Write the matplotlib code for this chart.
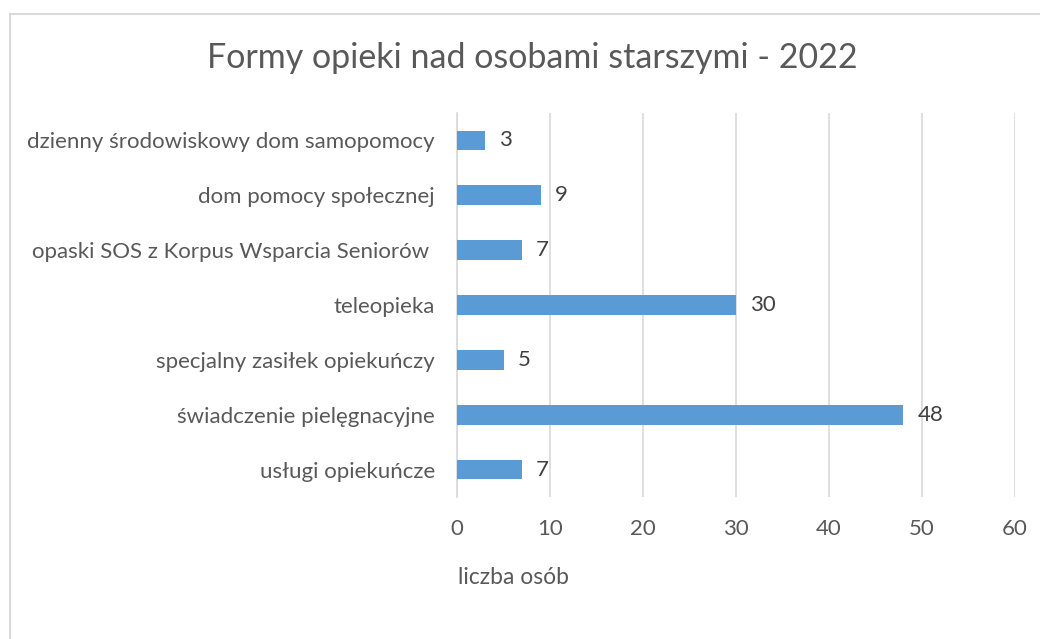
import matplotlib.pyplot as plt
from matplotlib.lines import Line2D

plt.rcParams['font.family'] = ['Lato', 'DejaVu Sans']

kategorie = ['usługi opiekuńcze',
             'świadczenie pielęgnacyjne',
             'specjalny zasiłek opiekuńczy',
             'teleopieka',
             'opaski SOS z Korpus Wsparcia Seniorów ',
             'dom pomocy społecznej',
             'dzienny środowiskowy dom samopomocy']
liczba = [7, 48, 5, 30, 7, 9, 3]
xticks = [0, 10, 20, 30, 40, 50, 60]

fig = plt.figure(figsize=(10.4, 6.39), dpi=100)
ax = fig.add_axes([457 / 1040, 142 / 639, 558 / 1040, 384 / 639])

y = range(len(kategorie))
ax.barh(y, liczba, height=0.36, color='#5b9bd5', zorder=3)
for i, v in enumerate(liczba):
    ax.annotate(str(v), xy=(v, i), xytext=(10, 0), textcoords='offset points',
                va='center', ha='left', fontsize=16, color='#404040')

ax.set_xlim(0, 60)
ax.set_ylim(-0.5, len(kategorie) - 0.5)
ax.set_xticks(xticks)
ax.set_yticks(list(y))
ax.set_yticklabels(kategorie)
ax.grid(axis='x', color='#d9d9d9', lw=1.2, zorder=0)
for s in ['top', 'right', 'bottom']:
    ax.spines[s].set_visible(False)
ax.spines['left'].set_color('#d9d9d9')
ax.spines['left'].set_linewidth(1.2)
ax.tick_params(axis='both', length=0, labelsize=16, colors='#595959')
ax.tick_params(axis='x', pad=16)
ax.tick_params(axis='y', pad=16)

fig.text(532 / 1040, 1 - 58 / 639, 'Formy opieki nad osobami starszymi - 2022',
         ha='center', va='center', fontsize=24.5, color='#595959')
fig.text(458 / 1040, 1 - 578 / 639, 'liczba osób', ha='left', va='center',
         fontsize=16.5, color='#595959')

# ramka wykresu
fig.add_artist(Line2D([10 / 1040, 10 / 1040], [0, 1 - 14 / 639], transform=fig.transFigure,
                      color='#d9d9d9', lw=1.5))
fig.add_artist(Line2D([10 / 1040, 1], [1 - 14 / 639, 1 - 14 / 639], transform=fig.transFigure,
                      color='#d9d9d9', lw=1.5))

fig.savefig('out.png', dpi=100)
